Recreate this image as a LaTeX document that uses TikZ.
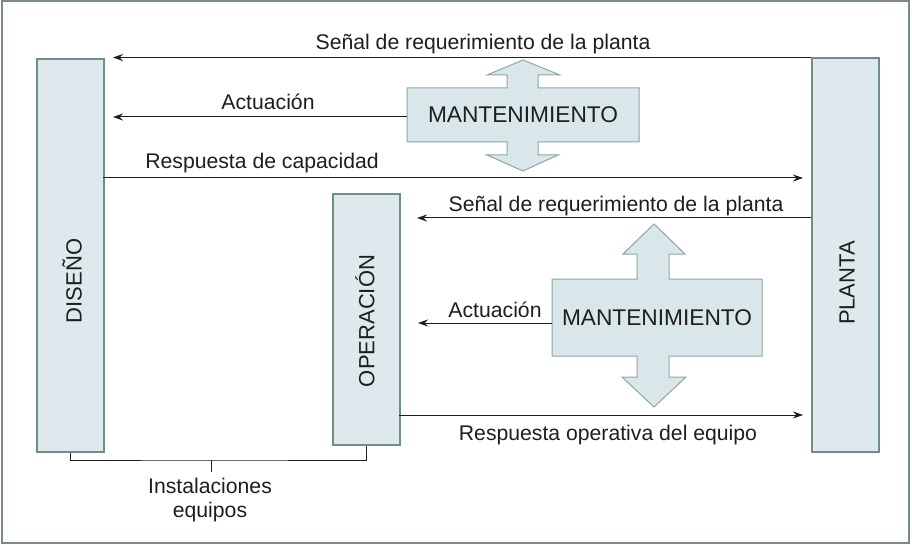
\documentclass[tikz,border=0pt]{standalone}
\usepackage{fontspec}
\setmainfont{Liberation Sans}
\usetikzlibrary{arrows.meta}
\definecolor{boxfill}{HTML}{DDE9EC}
\definecolor{boxline}{HTML}{6E8E8C}
\definecolor{mfill}{HTML}{DAE7EA}
\definecolor{mline}{HTML}{8FA5A6}
\definecolor{frame}{HTML}{7A8A90}
\definecolor{ink}{HTML}{1E1E1E}
\tikzset{
  colbox/.style={draw=boxline, fill=boxfill, line width=1.8pt, inner sep=0pt, anchor=north west},
  vlabel/.style={rotate=90, font=\fontsize{22}{24}\selectfont, text=ink},
  lbl/.style={font=\fontsize{21.2}{23}\selectfont, text=ink, anchor=base, inner sep=0pt},
  mtext/.style={font=\fontsize{22.7}{24}\selectfont, text=ink, inner sep=0pt},
  conn/.style={draw=ink, line width=1pt},
  arr/.style={conn, -{Stealth[length=10pt,width=7pt]}},
  mshape/.style={draw=mline, fill=mfill, line width=1pt, line join=miter}
}
\begin{document}
\begin{tikzpicture}[x=1pt,y=-1pt]
\useasboundingbox (0,0) rectangle (912,545);
\fill[white] (0,0) rectangle (912,545);
\draw[frame, line width=2pt] (1.5,1.5) rectangle (908.5,543);

% columns
\node[colbox, minimum width=67pt, minimum height=393pt] (diseno) at (36,58) {};
\node[colbox, minimum width=67pt, minimum height=394pt] (planta) at (811,57) {};
\node[colbox, minimum width=67pt, minimum height=251pt] (oper) at (332,193) {};
\node[vlabel] (tdis) at (72,281) {DISEÑO};
\node[vlabel] (tpla) at (847,283) {PLANTA};
\node[vlabel] (tope) at (365,321) {OPERACIÓN};

% mantenimiento 1
\path[mshape] (407,88) -- (507,88) -- (507,75) -- (487,75) -- (523,60) -- (560,75) -- (538,75) -- (538,88)
  -- (639,88) -- (639,142) -- (538,142) -- (538,155) -- (558,155) -- (523,171) -- (487,155) -- (507,155)
  -- (507,142) -- (407,142) -- cycle;
\node[minimum width=232pt, minimum height=54pt, inner sep=0pt] (m1) at (523,115) {};
\node[mtext] (m1t) at (523,115) {MANTENIMIENTO};

% mantenimiento 2
\path[mshape] (552,279) -- (637,279) -- (637,254) -- (623,254) -- (654,224) -- (685,254) -- (669,254) -- (669,279)
  -- (762,279) -- (762,356) -- (669,356) -- (669,377) -- (686,377) -- (654,407) -- (622,377) -- (637,377)
  -- (637,356) -- (552,356) -- cycle;
\node[minimum width=210pt, minimum height=77pt, inner sep=0pt] (m2) at (657,317.5) {};
\node[mtext] (m2t) at (657,318) {MANTENIMIENTO};

% free ends
\coordinate (e1) at (113,57.5);
\coordinate (e2) at (113,117);
\coordinate (e3) at (803,178);
\coordinate (s3) at (103,178);
\coordinate (s4) at (811,218);
\coordinate (e4) at (417,218);
\coordinate (e5) at (418,323);
\coordinate (s5) at (552,323);
\coordinate (s6) at (399,415);
\coordinate (e6) at (803,415);
\coordinate (s1) at (811,57.5);
\coordinate (s2) at (407,117);

\draw[arr] (s1) -- (e1);
\draw[arr] (s2) -- (e2);
\draw[arr] (s3) -- (e3);
\draw[arr] (s4) -- (e4);
\draw[arr] (s5) -- (e5);
\draw[arr] (s6) -- (e6);

\node[lbl] (l1) at (483,50) {Señal de requerimiento de la planta};
\node[lbl] (l2) at (268,110) {Actuación};
\node[lbl] (l3) at (262,169) {Respuesta de capacidad};
\node[lbl] (l4) at (616,212) {Señal de requerimiento de la planta};
\node[lbl] (l5) at (495,317) {Actuación};
\node[lbl] (l6) at (608,440) {Respuesta operativa del equipo};

% bracket
\coordinate (bm) at (211,460);
\coordinate (bt) at (211,472);
\draw[conn] (diseno.south) |- (bm) -| (oper.south);
\draw[conn] (bm) -- (bt);
\node[lbl] (l7) at (210,493) {Instalaciones};
\node[lbl] (l8) at (210,517) {equipos};
\end{tikzpicture}
\end{document}
